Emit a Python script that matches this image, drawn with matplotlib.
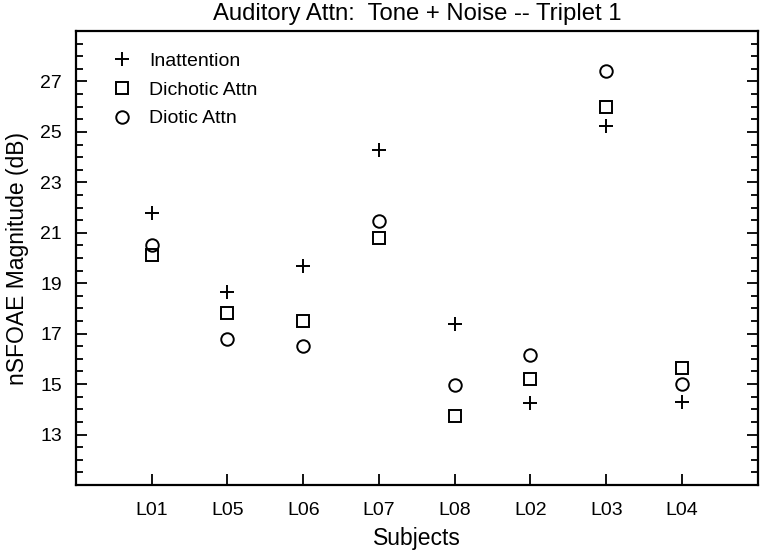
import numpy as np
import matplotlib.pyplot as plt

plt.rcParams["font.family"] = ["Liberation Sans", "DejaVu Sans"]

# subjects along the x axis
subjects = ["L01", "L05", "L06", "L07", "L08", "L02", "L03", "L04"]

# nSFOAE magnitude (dB) for each condition
inattention = [21.8, 18.65, 19.7, 24.3, 17.37, 14.25, 25.25, 14.3]
dichotic_attn = [20.1, 17.8, 17.5, 20.8, 13.74, 15.2, 26.0, 15.62]
diotic_attn = [20.5, 16.8, 16.5, 21.45, 14.95, 16.17, 27.4, 15.0]

x = np.arange(1, len(subjects) + 1)

fig = plt.figure(figsize=(7.6, 5.52), dpi=100)
ax = fig.add_axes([0.1, 0.1214, 0.897, 0.8224])

ax.plot(x, inattention, "+", ms=10, mew=1.4, color="k", label="Inattention")
ax.plot(x, dichotic_attn, "s", ms=9, mew=1.4, mfc="none", color="k", label="Dichotic Attn")
ax.plot(x, diotic_attn, "o", ms=9, mew=1.4, mfc="none", color="k", label="Diotic Attn")

ax.set_xlim(0, 9)
ax.set_ylim(11, 29)
ax.set_xticks(x)
ax.set_xticklabels(subjects)
ax.set_yticks(np.arange(13, 28, 2))
ax.set_yticks(np.arange(11, 29.01, 0.5), minor=True)

ax.tick_params(axis="y", which="major", direction="in", length=8, width=1.3,
               right=True, labelsize=14, pad=10)
ax.tick_params(axis="y", which="minor", direction="in", length=5, width=1.3, right=True)
ax.tick_params(axis="x", which="major", direction="in", length=8, width=1.3,
               top=False, labelsize=14, pad=12)
for s in ax.spines.values():
    s.set_linewidth(1.6)

ax.set_xlabel("Subjects", fontsize=16.5, labelpad=6)
ax.set_ylabel("nSFOAE Magnitude (dB)", fontsize=16.5, labelpad=8)
ax.set_title("Auditory Attn:  Tone + Noise -- Triplet 1", fontsize=17.2, pad=8)

ax.legend(loc="upper left", frameon=False, fontsize=14, handletextpad=0.64,
          labelspacing=0.58, borderaxespad=0.8, handlelength=1.5,
          bbox_to_anchor=(0.012, 1.005))

fig.savefig("out.png", dpi=100)
